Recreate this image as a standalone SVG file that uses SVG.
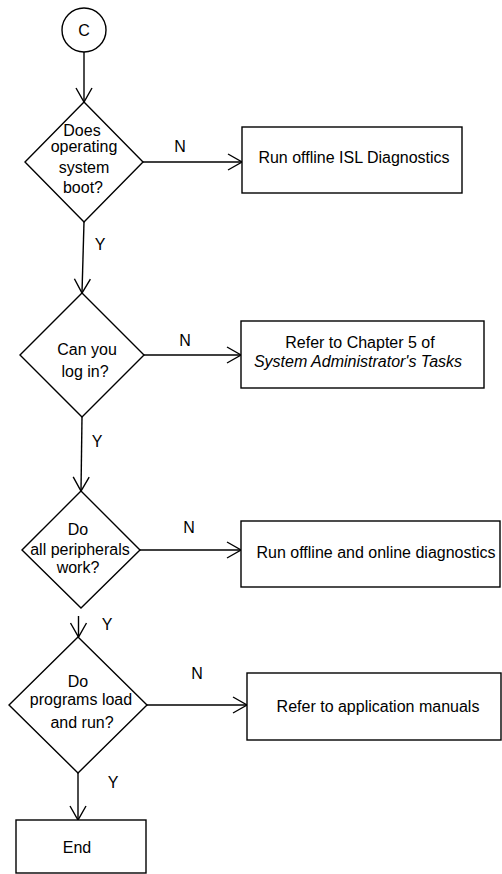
<svg xmlns="http://www.w3.org/2000/svg" width="502" height="874" viewBox="0 0 502 874">
  <style>
    .shape { fill: #ffffff; stroke: #000000; stroke-width: 1.4; }
    .wire { fill: none; stroke: #000000; stroke-width: 1.4; }
    text { font-family: "Liberation Sans", Arial, sans-serif; font-size: 16px; fill: #000000; text-anchor: middle; }
    .it { font-style: italic; }
  </style>
  <defs>
    <marker id="open" markerUnits="userSpaceOnUse" markerWidth="16" markerHeight="18" refX="14" refY="8" orient="auto" overflow="visible">
      <path d="M0,0 L14,8 L0,16" fill="none" stroke="#000000" stroke-width="1.4"/>
    </marker>
  </defs>
  <rect width="502" height="874" fill="#ffffff"/>

  <!-- connectors -->
  <g id="connectors">
    <path class="wire" d="M84,52 L84,102" marker-end="url(#open)"/>
    <path class="wire" d="M143,162 L242,162" marker-end="url(#open)"/>
    <path class="wire" d="M84,222 L82,293" marker-end="url(#open)"/>
    <path class="wire" d="M144,355 L241,355" marker-end="url(#open)"/>
    <path class="wire" d="M82,417 L81,491" marker-end="url(#open)"/>
    <path class="wire" d="M140,550 L241,550" marker-end="url(#open)"/>
    <path class="wire" d="M78.5,616 L78.5,637" marker-end="url(#open)"/>
    <path class="wire" d="M147,705 L247,705" marker-end="url(#open)"/>
    <path class="wire" d="M78,773 L78,820" marker-end="url(#open)"/>
    <text x="180" y="152">N</text>
    <text x="100" y="250">Y</text>
    <text x="185" y="346">N</text>
    <text x="97" y="447">Y</text>
    <text x="189" y="533">N</text>
    <text x="107" y="630">Y</text>
    <text x="197" y="679">N</text>
    <text x="113" y="788">Y</text>
  </g>

  <g id="start">
    <circle class="shape" cx="84" cy="30" r="22"/>
    <text x="84" y="36">C</text>
  </g>

  <g id="q-boot">
    <polygon class="shape" points="84,102 143,162 84,222 25,162"/>
    <text x="82" y="136">Does</text>
    <text x="84" y="152">operating</text>
    <text x="84" y="173">system</text>
    <text x="83" y="193">boot?</text>
  </g>

  <g id="isl-diag">
    <rect class="shape" x="242" y="127" width="220" height="66"/>
    <text x="354" y="163">Run offline ISL Diagnostics</text>
  </g>

  <g id="q-login">
    <polygon class="shape" points="82,293 144,355 82,417 20,355"/>
    <text x="87" y="355">Can you</text>
    <text x="85" y="377">log in?</text>
  </g>

  <g id="chapter5">
    <rect class="shape" x="241" y="321" width="243" height="67"/>
    <text x="360" y="348">Refer to Chapter 5 of</text>
    <text class="it" x="358" y="367">System Administrator's Tasks</text>
  </g>

  <g id="q-peripherals">
    <polygon class="shape" points="81,491 140,550 81,608 22,550"/>
    <text x="78" y="535">Do</text>
    <text x="80" y="555">all peripherals</text>
    <text x="78" y="573">work?</text>
  </g>

  <g id="full-diag">
    <rect class="shape" x="241" y="521" width="259" height="66"/>
    <text x="376" y="558">Run offline and online diagnostics</text>
  </g>

  <g id="q-programs">
    <polygon class="shape" points="78,637 147,705 78,773 9,705"/>
    <text x="78" y="687">Do</text>
    <text x="81" y="705">programs load</text>
    <text x="82" y="728">and run?</text>
  </g>

  <g id="app-manuals">
    <rect class="shape" x="247" y="673" width="254" height="67"/>
    <text x="378" y="712">Refer to application manuals</text>
  </g>

  <g id="end">
    <rect class="shape" x="16" y="820" width="130" height="53"/>
    <text x="77" y="853">End</text>
  </g>
</svg>
